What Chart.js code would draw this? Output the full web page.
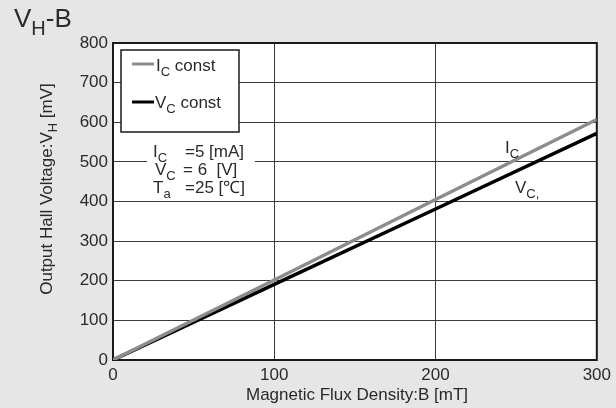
<!DOCTYPE html>
<html lang="en">
<head>
  <meta charset="UTF-8" />
  <title>VH-B</title>
  <script src="https://cdn.jsdelivr.net/npm/chart.js"></script>
  <style>
    html, body { margin: 0; padding: 0; background: #e6e6e6; }
    #wrap { width: 616px; height: 408px; }
  </style>
</head>
<body>
  <div id="wrap"><canvas id="chartCanvas" width="616" height="408"></canvas></div>

  <script>
    // values
    const fluxB = [0, 100, 200, 300];           // B [mT]
    const vhIcConst = [0, 202, 405, 607];       // VH [mV] at Ic const
    const vhVcConst = [0, 191, 381, 572];       // VH [mV] at Vc const
    const xTicks = [0, 100, 200, 300];

    const FONT = "'Liberation Sans', Arial, sans-serif";
    const TXT = '#2a2a2a';

    // draws a run of text pieces, [text, isSub]
    function drawRich(ctx, x, y, parts, size, align) {
      const subSize = Math.round(size * 0.75);
      let w = 0;
      parts.forEach(p => {
        ctx.font = (p[1] ? subSize : size) + 'px ' + FONT;
        w += ctx.measureText(p[0]).width;
      });
      let cx = align === 'center' ? x - w / 2 : x;
      ctx.textAlign = 'left';
      ctx.textBaseline = 'alphabetic';
      parts.forEach(p => {
        ctx.font = (p[1] ? subSize : size) + 'px ' + FONT;
        ctx.fillText(p[0], cx, p[1] ? y + size * 0.3 : y);
        cx += ctx.measureText(p[0]).width;
      });
    }

    const decorPlugin = {
      id: 'decor',
      beforeDraw(chart) {
        const { ctx, chartArea: a } = chart;
        ctx.save();
        ctx.fillStyle = '#e6e6e6';
        ctx.fillRect(0, 0, chart.width, chart.height);
        ctx.fillStyle = '#ffffff';
        ctx.fillRect(a.left, a.top, a.right - a.left, a.bottom - a.top);
        ctx.restore();
      },
      beforeDatasetsDraw(chart) {
        const { ctx, chartArea: a } = chart;
        ctx.save();
        ctx.strokeStyle = '#1a1a1a';
        ctx.lineWidth = 2;
        ctx.strokeRect(a.left, a.top, a.right - a.left, a.bottom - a.top);

        // conditions box (white behind the text)
        ctx.fillStyle = '#ffffff';
        ctx.fillRect(147, 140, 108, 57);
        ctx.fillStyle = TXT;
        drawRich(ctx, 153, 157, [['I', false], ['C', true]], 17, 'left');
        drawRich(ctx, 185, 157, [['=5 [mA]', false]], 17, 'left');
        drawRich(ctx, 155, 175, [['V', false], ['C', true]], 17, 'left');
        drawRich(ctx, 183, 175, [['= 6  [V]', false]], 17, 'left');
        drawRich(ctx, 153, 193, [['T', false], ['a', true]], 17, 'left');
        drawRich(ctx, 185, 193, [['=25 [\u2103]', false]], 17, 'left');
        ctx.restore();
      },
      afterDatasetsDraw(chart) {
        const { ctx } = chart;
        ctx.save();

        // legend
        ctx.fillStyle = '#ffffff';
        ctx.fillRect(121, 50, 118, 82);
        ctx.strokeStyle = '#1a1a1a';
        ctx.lineWidth = 1.5;
        ctx.strokeRect(121, 50, 118, 82);
        ctx.lineWidth = 3;
        ctx.strokeStyle = '#8c8c8c';
        ctx.beginPath(); ctx.moveTo(132, 64); ctx.lineTo(154, 64); ctx.stroke();
        ctx.strokeStyle = '#000000';
        ctx.beginPath(); ctx.moveTo(132, 102); ctx.lineTo(154, 102); ctx.stroke();
        ctx.fillStyle = TXT;
        drawRich(ctx, 156, 71, [['I', false], ['C', true], [' const', false]], 17, 'left');
        drawRich(ctx, 155, 108, [['V', false], ['C', true], [' const', false]], 17, 'left');

        // curve labels
        drawRich(ctx, 505, 153, [['I', false], ['C', true]], 17, 'left');
        drawRich(ctx, 515, 193, [['V', false], ['C,', true]], 17, 'left');

        // title
        drawRich(ctx, 14, 27, [['V', false], ['H', true], ['-B', false]], 26, 'left');

        // axis titles
        drawRich(ctx, 357, 400, [['Magnetic Flux Density:B [mT]', false]], 17, 'center');
        ctx.translate(52, 189);
        ctx.rotate(-Math.PI / 2);
        drawRich(ctx, 0, 0, [['Output Hall Voltage:V', false], ['H', true], [' [mV]', false]], 17, 'center');
        ctx.restore();
      }
    };

    const toPoints = ys => fluxB.map((b, i) => ({ x: b, y: ys[i] }));

    new Chart(document.getElementById('chartCanvas'), {
      type: 'line',
      data: {
        datasets: [
          {
            label: 'Ic const',
            data: toPoints(vhIcConst),
            borderColor: '#8c8c8c',
            borderWidth: 3.5,
            pointRadius: 0,
            tension: 0
          },
          {
            label: 'Vc const',
            data: toPoints(vhVcConst),
            borderColor: '#000000',
            borderWidth: 3.5,
            pointRadius: 0,
            tension: 0
          }
        ]
      },
      options: {
        responsive: false,
        animation: false,
        layout: { padding: { left: 0, top: 43, right: 11, bottom: 0 } },
        plugins: {
          legend: { display: false },
          tooltip: { enabled: false }
        },
        scales: {
          x: {
            type: 'linear',
            min: 0,
            max: 300,
            afterBuildTicks: s => { s.ticks = xTicks.map(v => ({ value: v })); },
            afterFit: s => { s.height = 48; },
            grid: { color: '#3a3a3a', lineWidth: 1, drawTicks: false },
            border: { color: '#1a1a1a', width: 2 },
            ticks: { color: TXT, font: { family: FONT, size: 17 }, padding: 5, maxRotation: 0 }
          },
          y: {
            min: 0,
            max: 800,
            afterFit: s => { s.width = 113; },
            grid: { color: '#3a3a3a', lineWidth: 1, drawTicks: false },
            border: { color: '#1a1a1a', width: 2 },
            ticks: { stepSize: 100, color: TXT, font: { family: FONT, size: 17 }, padding: 5 }
          }
        }
      },
      plugins: [decorPlugin]
    });
  </script>
</body>
</html>
